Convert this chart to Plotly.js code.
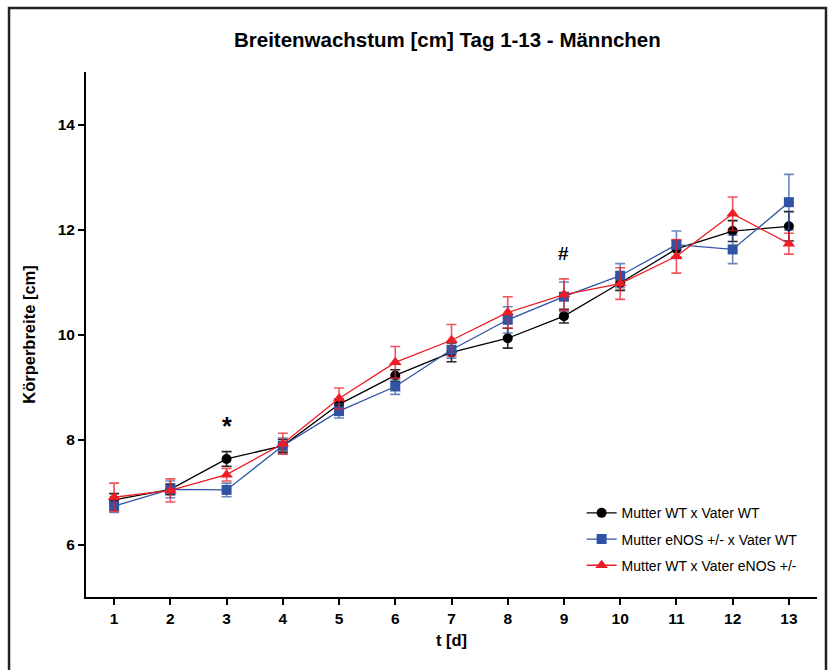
<!DOCTYPE html>
<html>
<head>
<meta charset="utf-8">
<script src="https://cdn.plot.ly/plotly-3.0.1.min.js"></script>
<style>html,body{margin:0;padding:0;background:#fff;}</style>
</head>
<body>
<div id="chart" style="width:830px;height:670px;"></div>
<script>
const days = [1,2,3,4,5,6,7,8,9,10,11,12,13];
const seriesNames = ["Mutter WT x Vater WT", "Mutter eNOS +/- x Vater WT", "Mutter WT x Vater eNOS +/-"];
const wtwt     = [6.85, 7.05, 7.63, 7.88, 8.67, 9.22, 9.66, 9.93, 10.35, 10.98, 11.63, 11.97, 12.06];
const wtwtErr  = [0.12, 0.10, 0.14, 0.12, 0.10, 0.11, 0.18, 0.19, 0.13, 0.14, 0.16, 0.20, 0.28];
const enosWt    = [6.73, 7.05, 7.04, 7.88, 8.54, 9.01, 9.71, 10.28, 10.72, 11.12, 11.71, 11.62, 12.52];
const enosWtErr = [0.12, 0.16, 0.13, 0.15, 0.13, 0.15, 0.16, 0.25, 0.28, 0.23, 0.26, 0.27, 0.53];
const wtEnos    = [6.90, 7.03, 7.33, 7.92, 8.78, 9.47, 9.89, 10.42, 10.76, 10.97, 11.49, 12.30, 11.73];
const wtEnosErr = [0.27, 0.22, 0.12, 0.20, 0.20, 0.30, 0.30, 0.30, 0.30, 0.30, 0.32, 0.32, 0.20];
const yTicks = [6, 8, 10, 12, 14];
const markNotes = [{day: 3, y: 8.25, text: "*"}, {day: 9, y: 11.55, text: "#"}];

function tr(name, y, err, color, errColor, symbol, size) {
  return {
    x: days, y: y, name: name, type: "scatter", mode: "lines+markers", legendgroup: name,
    line: {color: color, width: 1.3},
    marker: {color: color, symbol: symbol, size: size},
    error_y: {type: "data", array: err, visible: true, color: errColor, thickness: 1.6, width: 5}
  };
}
const data = [
  tr(seriesNames[0], wtwt, wtwtErr, "#000000", "rgba(0,0,0,0.85)", "circle", 10),
  tr(seriesNames[1], enosWt, enosWtErr, "#3053a3", "rgba(48,83,163,0.7)", "square", 10),
  tr(seriesNames[2], wtEnos, wtEnosErr, "#ee1c25", "rgba(238,28,37,0.75)", "triangle-up", 11)
];
const FONT = "Liberation Sans, Arial, sans-serif";
const layout = {
  width: 830, height: 670,
  margin: {l: 86, r: 13, t: 72, b: 73},
  paper_bgcolor: "#fff", plot_bgcolor: "#fff",
  showlegend: true,
  title: {text: "<b>Breitenwachstum [cm] Tag 1-13 - Männchen</b>",
          font: {family: FONT, size: 20.5, color: "#000"},
          x: 0.539, xanchor: "center", y: 0.94, yanchor: "middle"},
  xaxis: {
    range: [0.5, 13.5], tickmode: "array", tickvals: days, ticktext: days.map(d => "<b>" + d + "</b>"),
    showline: true, linecolor: "#000", linewidth: 2, ticks: "outside", ticklen: 6, tickwidth: 2, tickcolor: "#000",
    showgrid: false, zeroline: false, tickfont: {family: FONT, size: 15.5, color: "#000"},
    title: {text: "<b>t [d]</b>", font: {family: FONT, size: 16.5, color: "#000"}, standoff: 9}
  },
  yaxis: {
    range: [5, 15], tickmode: "array", tickvals: yTicks, ticktext: yTicks.map(v => "<b>" + v + "</b>"),
    showline: true, linecolor: "#000", linewidth: 2, ticks: "outside", ticklen: 6, tickwidth: 2, tickcolor: "#000",
    showgrid: false, zeroline: false, tickfont: {family: FONT, size: 15.5, color: "#000"},
    title: {text: "<b>Körperbreite [cm]</b>", font: {family: FONT, size: 16.5, color: "#000"}, standoff: 18}
  },
  legend: {x: 0.678, y: 0.19, xanchor: "left", yanchor: "top", bgcolor: "rgba(0,0,0,0)",
           font: {family: FONT, size: 14, color: "#000"}, tracegroupgap: 5},
  annotations: markNotes.map(n => ({x: n.day, y: n.y, xref: "x", yref: "y", text: "<b>" + n.text + "</b>",
      showarrow: false, font: {family: FONT, size: n.text === "*" ? 25 : 19, color: "#000"}})),
  shapes: [{type: "rect", xref: "paper", yref: "paper", x0: -0.1053, x1: 1.0123, y0: -0.16, y1: 1.1219,
            line: {color: "#222", width: 2.5}, fillcolor: "rgba(0,0,0,0)", layer: "below"}]
};
Plotly.newPlot("chart", data, layout, {displayModeBar: false, staticPlot: true});
</script>
</body>
</html>
